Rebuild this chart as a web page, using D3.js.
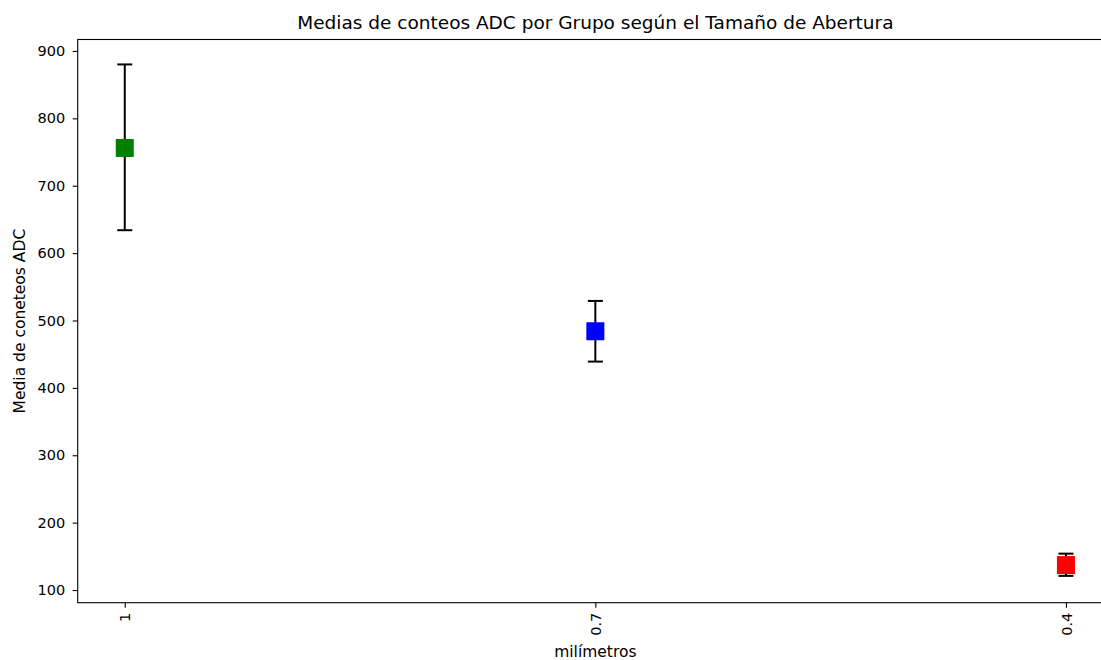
<!DOCTYPE html>
<html>
<head>
<meta charset="utf-8">
<script src="https://cdn.jsdelivr.net/npm/d3@7"></script>
<style>
  html, body { margin: 0; padding: 0; background: #fff; overflow: hidden; }
  svg { display: block; font-family: "DejaVu Sans", sans-serif; }
</style>
</head>
<body>
<svg id="chart" width="1101" height="660"></svg>
<script>
// Data
const categories = ["1", "0.7", "0.4"];
const means = [756, 484, 137];
const errLow = [634, 439, 121];
const errHigh = [880, 529, 154];
const colors = ["#008000", "#0000ff", "#ff0000"];
const yTicks = [100, 200, 300, 400, 500, 600, 700, 800, 900];

(function () {
const svg = d3.select("#chart");
const pLeft = 77.7, pRight = 1113, pTop = 39.5, pBottom = 602.7;
const tickFont = 14.5, labelFont = 15.5, titleFont = 18.5;

const x = d3.scaleLinear().domain([-0.1, 2.1]).range([pLeft, pRight]);
const y = d3.scaleLinear().domain([81.2, 917]).range([pBottom, pTop]);

// Axes
const yAxis = d3.axisLeft(y).tickValues(yTicks).tickSize(5).tickPadding(7.5).tickFormat(d3.format("d"));
const gy = svg.append("g").attr("transform", `translate(${pLeft},0)`).call(yAxis);
gy.select(".domain").remove();
gy.selectAll("text").attr("font-size", tickFont).attr("fill", "#000").attr("font-family", "DejaVu Sans");
gy.selectAll("line").attr("stroke", "#000").attr("stroke-width", 1.1);

const xAxis = d3.axisBottom(x).tickValues([0, 1, 2]).tickSize(5).tickFormat(i => categories[i]);
const gx = svg.append("g").attr("transform", `translate(0,${pBottom})`).call(xAxis);
gx.select(".domain").remove();
gx.selectAll("line").attr("stroke", "#000").attr("stroke-width", 1.1);
gx.selectAll("text")
  .attr("font-size", tickFont).attr("fill", "#000").attr("font-family", "DejaVu Sans")
  .attr("transform", "rotate(-90)")
  .attr("x", -10).attr("y", 0).attr("dy", "0.35em")
  .style("text-anchor", "end");

// Spines
svg.append("rect")
  .attr("x", pLeft).attr("y", pTop)
  .attr("width", pRight - pLeft).attr("height", pBottom - pTop)
  .attr("fill", "none").attr("stroke", "#000").attr("stroke-width", 1.1);

// Error bars
const capHalf = 7.5;
const g = svg.append("g");
categories.forEach((c, i) => {
  const cx = x(i);
  g.append("line").attr("x1", cx).attr("x2", cx).attr("y1", y(errLow[i])).attr("y2", y(errHigh[i]))
    .attr("stroke", "#000").attr("stroke-width", 2);
  [errLow[i], errHigh[i]].forEach(v => {
    g.append("line").attr("x1", cx - capHalf).attr("x2", cx + capHalf).attr("y1", y(v)).attr("y2", y(v))
      .attr("stroke", "#000").attr("stroke-width", 2);
  });
});
// Markers
const ms = 18;
g.selectAll("rect.m").data(means).enter().append("rect")
  .attr("class", "m")
  .attr("x", (d, i) => x(i) - ms / 2)
  .attr("y", d => y(d) - ms / 2)
  .attr("width", ms).attr("height", ms)
  .attr("fill", (d, i) => colors[i]);

// Title and labels
svg.append("text").attr("x", (pLeft + pRight) / 2).attr("y", 29)
  .attr("text-anchor", "middle").attr("font-size", titleFont).attr("fill", "#000")
  .text("Medias de conteos ADC por Grupo según el Tamaño de Abertura");
svg.append("text").attr("x", (pLeft + pRight) / 2).attr("y", 657)
  .attr("text-anchor", "middle").attr("font-size", labelFont).attr("fill", "#000")
  .text("milímetros");
svg.append("text")
  .attr("transform", `translate(25,${(pTop + pBottom) / 2}) rotate(-90)`)
  .attr("text-anchor", "middle").attr("font-size", labelFont).attr("fill", "#000")
  .text("Media de coneteos ADC");
})();
</script>
</body>
</html>
